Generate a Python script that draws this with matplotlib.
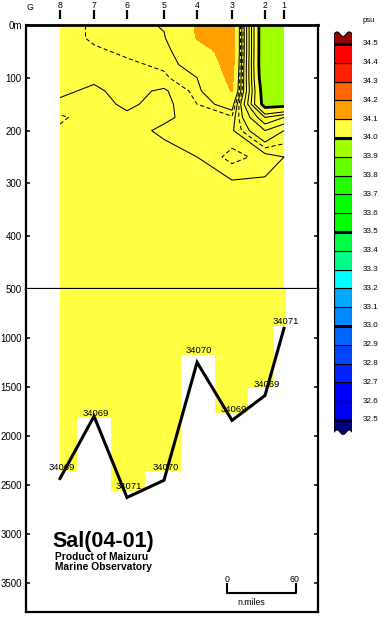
import numpy as np
import matplotlib
matplotlib.use("Agg")
from matplotlib import pyplot as plt
from matplotlib.colors import ListedColormap, BoundaryNorm

plt.rcParams['font.family'] = ['Liberation Sans', 'DejaVu Sans']

# stations, left to right, and distance along the line (n.miles)
station_names = ['8', '7', '6', '5', '4', '3', '2', '1']
station_dist = [0.0, 29.7, 58.5, 90.8, 119.7, 150.2, 179.0, 195.6]

# salinity 0-500 m (psu), one list per depth, stations 8..1
depth_levels = [0, 25, 50, 75, 100, 125, 150, 175, 200, 250, 300, 400, 500]
sal_000 = [34.072, 34.076, 34.076, 34.081, 34.102, 34.110, 33.975, 33.970]
sal_025 = [34.072, 34.076, 34.077, 34.079, 34.101, 34.110, 33.975, 33.970]
sal_050 = [34.074, 34.074, 34.076, 34.077, 34.090, 34.110, 33.975, 33.970]
sal_075 = [34.075, 34.072, 34.074, 34.076, 34.085, 34.108, 33.975, 33.970]
sal_100 = [34.072, 34.071, 34.073, 34.074, 34.080, 34.105, 33.978, 33.975]
sal_125 = [34.071, 34.069, 34.072, 34.069, 34.077, 34.101, 33.985, 33.985]
sal_150 = [34.069, 34.068, 34.071, 34.068, 34.075, 34.085, 33.990, 33.992]
sal_175 = [34.064, 34.068, 34.069, 34.069, 34.072, 34.074, 34.030, 34.040]
sal_200 = [34.066, 34.068, 34.068, 34.071, 34.072, 34.071, 34.050, 34.060]
sal_250 = [34.067, 34.068, 34.068, 34.068, 34.070, 34.077, 34.073, 34.070]
sal_300 = [34.068, 34.068, 34.068, 34.068, 34.068, 34.069, 34.069, 34.069]
sal_400 = [34.068, 34.068, 34.068, 34.068, 34.068, 34.068, 34.068, 34.068]
sal_500 = [34.068, 34.068, 34.068, 34.068, 34.068, 34.068, 34.068, 34.068]

# deep part: depth of the last sample, sea bottom, bottom salinity label
sample_depth = [2360, 1815, 2563, 2360, 1170, 1768, 1513, 875]
bottom_depth = [2436, 1800, 2630, 2454, 1249, 1842, 1588, 902]
bottom_label = ['34069', '34069', '34071', '34070', '34070', '34069', '34069', '34071']

# colour scale
cbar_levels = [32.5, 32.6, 32.7, 32.8, 32.9, 33.0, 33.1, 33.2, 33.3, 33.4, 33.5,
               33.6, 33.7, 33.8, 33.9, 34.0, 34.1, 34.2, 34.3, 34.4, 34.5]
cbar_colors = ['#0000EE', '#0000FF', '#0022FF', '#0044FF', '#0066FF', '#0088FF',
               '#00A8FF', '#00FFFF', '#00FF88', '#00FF44', '#00FF00', '#00FF00',
               '#22FF00', '#66FF00', '#A0FF00', '#FFFF44', '#FFA000', '#FF6600',
               '#FF2200', '#FF0000']
color_under = '#000080'
color_over = '#990000'
cbar_major = [32.5, 33.0, 33.5, 34.0, 34.5]

solid_levels = [34.02, 34.03, 34.04, 34.05, 34.06, 34.07, 34.08]
dashed_levels = [34.065, 34.075]

W, H = 383, 617
fig = plt.figure(figsize=(W / 100, H / 100), dpi=100)

def box(x0, y0, x1, y1):
    return [x0 / W, 1 - y1 / H, (x1 - x0) / W, (y1 - y0) / H]

ax_up = fig.add_axes(box(26, 25, 318, 289))
ax_lo = fig.add_axes(box(26, 289, 318, 612))
ax_cb = fig.add_axes(box(334, 31, 352.3, 435))

xlim = (-29.7, 225.3)

# ---- upper section
sal = np.array([sal_000, sal_025, sal_050, sal_075, sal_100, sal_125, sal_150,
                sal_175, sal_200, sal_250, sal_300, sal_400, sal_500])
X, Y = np.meshgrid(station_dist, depth_levels)
cmap = ListedColormap(cbar_colors)
cmap.set_under(color_under)
cmap.set_over(color_over)
norm = BoundaryNorm(cbar_levels, cmap.N)
ax_up.contourf(X, Y, sal, levels=cbar_levels, cmap=cmap, norm=norm, extend='both')
ax_up.contour(X, Y, sal, levels=solid_levels, colors='k', linewidths=0.75)
ax_up.contour(X, Y, sal, levels=dashed_levels, colors='k', linewidths=0.75,
              linestyles=[(0, (4, 2.5))])
ax_up.contour(X, Y, sal, levels=[34.0], colors='k', linewidths=2.0)

ax_up.set_xlim(*xlim)
ax_up.set_ylim(500, 0)
ax_up.set_yticks([0, 100, 200, 300, 400, 500])
ax_up.set_yticklabels(['0m', '100', '200', '300', '400', '500'])
ax_up.set_xticks([])

# station marks above the section
tr = ax_up.get_xaxis_transform()
ax_up.vlines(station_dist, 1 + 6 / 264, 1 + 15 / 264, transform=tr, colors='k',
             linewidth=1.6, clip_on=False)
for xs, name in zip(station_dist, station_names):
    ax_up.text(xs, 1 + 20 / 264, name, transform=tr, ha='center', va='center',
               fontsize=6.3)
ax_up.text(-26.2, 1 + 18 / 264, 'G', transform=tr, ha='center', va='center',
           fontsize=6.3)

# ---- lower section
mids = [(a + b) / 2 for a, b in zip(station_dist[:-1], station_dist[1:])]
edges = [station_dist[0]] + mids + [station_dist[-1] + 1.5]
ax_lo.bar(edges[:-1], np.array(sample_depth) - 500, bottom=500,
          width=np.diff(edges), align='edge', color='#FFFF44', linewidth=0)
ax_lo.plot(station_dist, bottom_depth, color='k', linewidth=2.2,
           solid_joinstyle='miter')
for xs, d, lab in zip(station_dist, sample_depth, bottom_label):
    ax_lo.text(xs + 1.7, d - 15, lab, ha='center', va='baseline', fontsize=6.8)

ax_lo.set_xlim(*xlim)
ax_lo.set_ylim(3800, 500)
ax_lo.set_yticks([1000, 1500, 2000, 2500, 3000, 3500])
ax_lo.set_yticklabels(['1000', '1500', '2000', '2500', '3000', '3500'])
ax_lo.set_xticks([])

# distance scale
ax_lo.plot([146.1, 146.1, 206.1, 206.1], [3513, 3602, 3602, 3513], color='k',
           linewidth=1.5)
ax_lo.text(146.1, 3465, '0', ha='center', va='center', fontsize=6.3)
ax_lo.text(205.0, 3465, '60', ha='center', va='center', fontsize=6.3)
ax_lo.text(166.8, 3705, 'n.miles', ha='center', va='center', fontsize=6.3)

for ax in (ax_up, ax_lo):
    for s in ax.spines.values():
        s.set_linewidth(1.6)
    ax.tick_params(axis='y', direction='in', left=True, right=True,
                   labelright=False, length=3, width=1.1, pad=3, labelsize=7)
ax_up.spines['top'].set_linewidth(2.0)
ax_lo.spines['top'].set_visible(False)

# titles
fig.text(52 / W, 1 - 541 / H, 'Sal(04-01)', fontsize=15.5, fontweight='bold',
         ha='left', va='center')
fig.text(55 / W, 1 - 556.5 / H, 'Product of Maizuru', fontsize=7.4,
         fontweight='bold', ha='left', va='center')
fig.text(55 / W, 1 - 566.5 / H, 'Marine Observatory', fontsize=7.4,
         fontweight='bold', ha='left', va='center')

# ---- colour bar
for lo, c in zip(cbar_levels[:-1], cbar_colors):
    ax_cb.bar(0.5, 0.1, bottom=lo, width=1, color=c, edgecolor='k', linewidth=0.8)
xs = np.linspace(0, 1, 30)
wave = 0.012 * np.sin(xs * 2 * np.pi * 1.5)
ax_cb.fill(np.r_[0, xs, 1], np.r_[34.5, 34.552 + wave, 34.5], color=color_over,
           edgecolor='k', linewidth=0.8)
ax_cb.fill(np.r_[0, xs, 1], np.r_[32.5, 32.435 + wave, 32.5], color=color_under,
           edgecolor='k', linewidth=0.8)
for v in cbar_major:
    ax_cb.plot([0, 1], [v, v], color='k', linewidth=2.2)
ax_cb.set_xlim(0, 1)
ax_cb.set_ylim(32.42, 34.569)
ax_cb.axis('off')
ctr = ax_cb.get_yaxis_transform()
for v in cbar_levels:
    ax_cb.text(1.585, v, f'{v:.1f}', transform=ctr, ha='left', va='center',
               fontsize=5.8)
fig.text(363 / W, 1 - 21 / H, 'psu', fontsize=5.6, ha='left', va='center')

fig.savefig('out.png', dpi=100)
